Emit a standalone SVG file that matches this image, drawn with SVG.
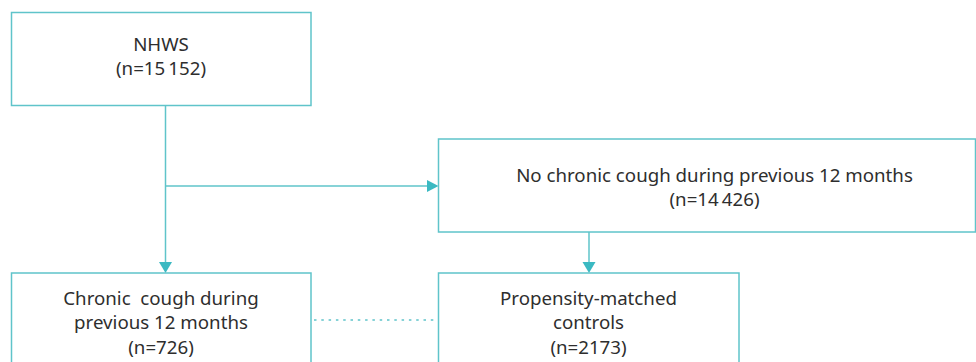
<svg xmlns="http://www.w3.org/2000/svg" width="976" height="362" viewBox="0 0 976 362">
<style>
.box{fill:#ffffff;stroke:#5fc4ca;stroke-width:1.5}
.ln{stroke:#5fc4ca;stroke-width:1.5;fill:none}
.dot{stroke:#5fc4ca;stroke-width:1.5;fill:none;stroke-dasharray:2.5 4.8}
.ah{fill:#3bb9c2}
text{font-family:"Noto Sans","Open Sans","Liberation Sans",sans-serif;font-size:18.7px;fill:#2e2e2e;text-anchor:middle}
</style>
<rect width="976" height="362" fill="#ffffff"/>
<g id="connectors">
<line class="ln" x1="165.5" y1="105.5" x2="165.5" y2="263"/>
<polygon class="ah" points="159,262 172,262 165.5,273"/>
<line class="ln" x1="165.5" y1="186" x2="428" y2="186"/>
<polygon class="ah" points="427,180 427,192 438.5,186"/>
<line class="ln" x1="589" y1="232" x2="589" y2="263"/>
<polygon class="ah" points="582.5,262 595.5,262 589,273"/>
<line class="dot" x1="314" y1="320" x2="438" y2="320"/>
</g>
<g id="nhws">
<rect class="box" x="11.5" y="12.5" width="299.5" height="93"/>
<text x="161" y="51">NHWS</text>
<text x="161" y="74.5">(n=15&#8201;152)</text>
</g>
<g id="no-cough">
<rect class="box" x="438.5" y="139" width="537" height="93"/>
<text x="714.5" y="181.5">No chronic cough during previous 12 months</text>
<text x="714.5" y="206">(n=14&#8201;426)</text>
</g>
<g id="chronic-cough">
<rect class="box" x="11.5" y="273" width="299.5" height="110"/>
<text x="161" y="304.5" xml:space="preserve">Chronic  cough during</text>
<text x="161" y="329">previous 12 months</text>
<text x="161" y="354">(n=726)</text>
</g>
<g id="controls">
<rect class="box" x="438.5" y="273" width="300.5" height="110"/>
<text x="588.5" y="304.5">Propensity-matched</text>
<text x="588.5" y="329">controls</text>
<text x="588.5" y="354">(n=2173)</text>
</g>
</svg>
